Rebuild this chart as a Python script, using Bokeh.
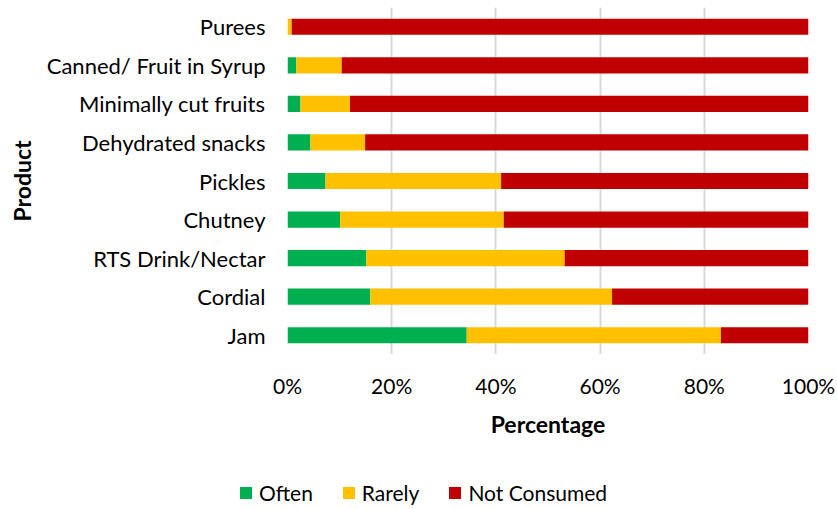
from bokeh.plotting import figure
from bokeh.layouts import column
from bokeh.models import FactorRange, Range1d, PrintfTickFormatter, FixedTicker, Legend, LegendItem
from bokeh.embed import file_html
from bokeh.resources import INLINE

products = ["Purees", "Canned/ Fruit in Syrup", "Minimally cut fruits", "Dehydrated snacks",
            "Pickles", "Chutney", "RTS Drink/Nectar", "Cordial", "Jam"]
often = [0.0, 1.7, 2.5, 4.4, 7.3, 10.1, 15.1, 15.9, 34.4]
rarely = [0.8, 8.7, 9.5, 10.5, 33.7, 31.4, 38.1, 46.4, 48.8]
not_consumed = [round(100 - o - r, 1) for o, r in zip(often, rarely)]
x_ticks = [0, 20, 40, 60, 80, 100]
series = ["Often", "Rarely", "Not Consumed"]
colors = ["#00B050", "#FFC000", "#C00000"]

FONT = "Lato"

p = figure(width=837, height=470, output_backend="svg", toolbar_location=None,
           y_range=FactorRange(factors=list(reversed(products)), range_padding=0),
           x_range=Range1d(0, 100))
p.min_border_left = 287
p.min_border_right = 29
p.min_border_top = 7
p.min_border_bottom = 116
p.outline_line_color = None
p.frame_align = False

data = dict(product=products, Often=often, Rarely=rarely)
data["Not Consumed"] = not_consumed
rs = p.hbar_stack(series, y="product", height=0.42, color=colors, source=data, line_width=0)

p.xgrid.ticker = FixedTicker(ticks=x_ticks)
p.xgrid.grid_line_color = "#D9D9D9"
p.xgrid.grid_line_width = 2
p.ygrid.grid_line_color = None

p.xaxis.ticker = FixedTicker(ticks=x_ticks)
p.xaxis.formatter = PrintfTickFormatter(format="%d%%")
p.xaxis.axis_line_color = None
p.xaxis.major_tick_line_color = None
p.xaxis.minor_tick_line_color = None
p.xaxis.major_label_standoff = 12
p.xaxis.major_label_text_font = FONT
p.xaxis.major_label_text_font_size = "21px"
p.xaxis.major_label_text_color = "#000000"
p.xaxis.axis_label = "Percentage"
p.xaxis.axis_label_text_font = FONT
p.xaxis.axis_label_text_font_size = "23px"
p.xaxis.axis_label_text_font_style = "bold"
p.xaxis.axis_label_text_color = "#000000"
p.xaxis.axis_label_standoff = 9

p.yaxis.axis_line_color = None
p.yaxis.major_tick_line_color = None
p.yaxis.minor_tick_line_color = None
p.yaxis.major_label_standoff = 16
p.yaxis.major_label_text_font = FONT
p.yaxis.major_label_text_font_size = "22px"
p.yaxis.major_label_text_color = "#000000"
p.yaxis.axis_label = "Product"
p.yaxis.axis_label_text_font = FONT
p.yaxis.axis_label_text_font_size = "23px"
p.yaxis.axis_label_text_font_style = "bold"
p.yaxis.axis_label_text_color = "#000000"
p.yaxis.axis_label_standoff = 8

# legend strip below the chart (its swatches come from hidden copies of the series)
leg = figure(width=837, height=39, output_backend="svg", toolbar_location=None,
             x_axis_type=None, y_axis_type=None,
             y_range=FactorRange(factors=products), x_range=Range1d(0, 100))
leg.min_border = 0
leg.min_border_left = 0
leg.min_border_right = 0
leg.min_border_top = 0
leg.min_border_bottom = 0
leg.outline_line_color = None
leg.grid.grid_line_color = None
leg.frame_align = False
lrs = leg.hbar_stack(series, y="product", height=0.42, color=colors, source=data, line_width=0)
for r in lrs:
    r.visible = False

legend = Legend(items=[LegendItem(label=s, renderers=[r]) for s, r in zip(series, lrs)],
                orientation="horizontal", location=(238, 4), click_policy="none",
                label_text_font=FONT, label_text_font_size="21px", label_text_color="#000000",
                glyph_width=15, glyph_height=15, label_standoff=6, spacing=28,
                border_line_color=None, background_fill_alpha=0, padding=0, margin=0)
leg.add_layout(legend, "center")

open("out.html", "w").write(file_html(column(p, leg), INLINE))
